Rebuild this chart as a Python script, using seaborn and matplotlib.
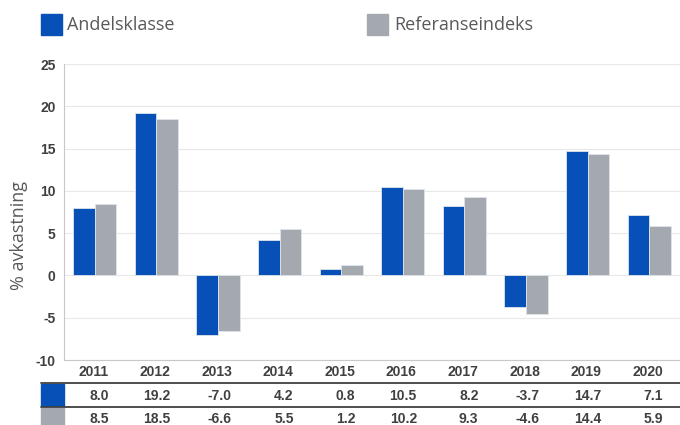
import matplotlib
matplotlib.use('Agg')
import matplotlib.pyplot as plt
from matplotlib.patches import Rectangle
from matplotlib.lines import Line2D
import pandas as pd
import seaborn as sns

years = ['2011', '2012', '2013', '2014', '2015', '2016', '2017', '2018', '2019', '2020']
andelsklasse = [8.0, 19.2, -7.0, 4.2, 0.8, 10.5, 8.2, -3.7, 14.7, 7.1]
referanse = [8.5, 18.5, -6.6, 5.5, 1.2, 10.2, 9.3, -4.6, 14.4, 5.9]
series_names = ['Andelsklasse', 'Referanseindeks']

blue = '#0650B8'
grey = '#A3A9AF'
txt = '#404040'

df = pd.DataFrame({
    'year': years * 2,
    'value': andelsklasse + referanse,
    'series': [series_names[0]] * len(years) + [series_names[1]] * len(years),
})

sns.set_style('white')
plt.rcParams['font.family'] = ['Liberation Sans', 'DejaVu Sans']
plt.rcParams['axes.unicode_minus'] = False

W, H = 680, 425
fig = plt.figure(figsize=(6.8, 4.25), dpi=100)
ax = fig.add_axes([64 / W, (H - 360) / H, (680 - 64) / W, (360 - 64) / H])

sns.barplot(data=df, x='year', y='value', hue='series', palette=[blue, grey],
            width=0.7, gap=0, legend=False, ax=ax, saturation=1,
            edgecolor='#dfe4ec', linewidth=0.6)

ax.set_ylim(-10, 25)
ax.set_xlim(-0.5, len(years) - 0.5)
ax.set_yticks(range(-10, 30, 5))
ax.yaxis.grid(True, color='#e8e8e8', linewidth=0.8)
ax.set_axisbelow(True)
for s in ['top', 'right']:
    ax.spines[s].set_visible(False)
ax.spines['left'].set_color('#c8c8c8')
ax.spines['bottom'].set_color('#c8c8c8')
ax.tick_params(axis='y', length=0, pad=6, labelsize=10, labelcolor=txt)
for lab in ax.get_yticklabels():
    lab.set_fontweight('bold')
ax.set_xticks([])
ax.set_xlabel('')
ax.set_ylabel('')

fig.text(19 / W, 1 - 236 / H, '% avkastning', rotation=90, ha='center', va='center',
         fontsize=13, color='#595959', family=['Open Sans', 'DejaVu Sans'])

# table under the chart
def fy(py):
    return 1 - py / H

for i, y in enumerate(years):
    xr = (64 + 61.6 * (i + 0.5) + 14) / W
    fig.text(xr, fy(372), y, ha='right', va='center', fontsize=10, fontweight='bold', color=txt)
    fig.text(xr, fy(396), f'{andelsklasse[i]:.1f}', ha='right', va='center', fontsize=10,
             fontweight='bold', color=txt)
    fig.text(xr, fy(419), f'{referanse[i]:.1f}', ha='right', va='center', fontsize=10,
             fontweight='bold', color=txt)

for py in [383, 407]:
    fig.add_artist(Line2D([41 / W, 1], [fy(py), fy(py)], color='#404040', linewidth=1.3))
fig.add_artist(Rectangle((41 / W, fy(406)), 23 / W, 22 / H, color=blue, transform=fig.transFigure))
fig.add_artist(Rectangle((41 / W, fy(425)), 23 / W, 17 / H, color=grey, transform=fig.transFigure))

# legend
fig.add_artist(Rectangle((41 / W, fy(35)), 21 / W, 21 / H, color=blue, transform=fig.transFigure))
fig.text(67 / W, fy(25), series_names[0], ha='left', va='center', fontsize=13,
         color='#595959', family=['Open Sans', 'DejaVu Sans'])
fig.add_artist(Rectangle((367 / W, fy(35)), 21 / W, 21 / H, color=grey, transform=fig.transFigure))
fig.text(394 / W, fy(25), series_names[1], ha='left', va='center', fontsize=13,
         color='#595959', family=['Open Sans', 'DejaVu Sans'])

fig.savefig('out.png', dpi=100)
